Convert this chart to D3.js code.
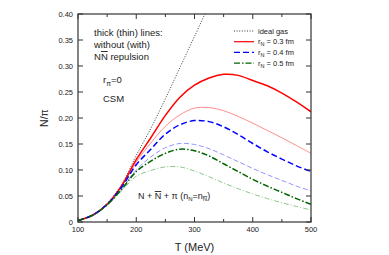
<!DOCTYPE html>
<html>
<head>
<meta charset="utf-8">
<script src="https://cdn.jsdelivr.net/npm/d3@7"></script>
<style>
  body { margin: 0; background: #fff; }
  text { font-family: "Liberation Sans", Arial, sans-serif; fill: #222; }
</style>
</head>
<body>
<svg id="chart" width="389" height="255"></svg>
<script>
// temperature grid (MeV)
var temps = [100, 125, 150, 175, 200, 225, 250, 275, 300, 325, 350, 375, 400, 425, 450, 475, 500];

// N/pi values
var idealT = [100, 125, 150, 175, 200, 225, 250, 275, 300, 325];
var idealGas = [0.003, 0.014, 0.036, 0.072, 0.128, 0.180, 0.237, 0.297, 0.357, 0.417];

var red03 = [0.003, 0.013, 0.034, 0.070, 0.120, 0.162, 0.205, 0.240, 0.263, 0.277, 0.284, 0.282, 0.272, 0.262, 0.248, 0.231, 0.212];
var red03rep = [0.003, 0.013, 0.034, 0.068, 0.115, 0.152, 0.184, 0.206, 0.219, 0.220, 0.214, 0.203, 0.190, 0.176, 0.162, 0.147, 0.132];
var blue04 = [0.003, 0.013, 0.034, 0.067, 0.110, 0.140, 0.169, 0.187, 0.195, 0.193, 0.183, 0.168, 0.151, 0.135, 0.121, 0.108, 0.097];
var blue04rep = [0.003, 0.013, 0.033, 0.064, 0.100, 0.125, 0.143, 0.151, 0.149, 0.141, 0.129, 0.116, 0.103, 0.091, 0.080, 0.069, 0.060];
var green05 = [0.003, 0.013, 0.033, 0.063, 0.097, 0.117, 0.132, 0.140, 0.137, 0.127, 0.112, 0.097, 0.082, 0.069, 0.057, 0.045, 0.034];
var green05rep = [0.003, 0.012, 0.032, 0.060, 0.088, 0.099, 0.106, 0.106, 0.098, 0.087, 0.075, 0.064, 0.054, 0.045, 0.037, 0.030, 0.023];

var xTicks = [100, 150, 200, 250, 300, 350, 400, 450, 500];
var xLabels = [100, 200, 300, 400, 500];
var yTicks = [0, 0.05, 0.10, 0.15, 0.20, 0.25, 0.30, 0.35, 0.40];

var legendNames = ["ideal gas", "0.3 fm", "0.4 fm", "0.5 fm"];

var margin = { left: 78, right: 78, top: 14, bottom: 33 };
var width = 389, height = 255;

var svg = d3.select("#chart");

var x = d3.scaleLinear().domain([100, 500]).range([margin.left, width - margin.right]);
var y = d3.scaleLinear().domain([0, 0.40]).range([height - margin.bottom, margin.top]);

svg.append("clipPath").attr("id", "clip")
  .append("rect")
  .attr("x", x(100)).attr("y", y(0.40))
  .attr("width", x(500) - x(100)).attr("height", y(0) - y(0.40));

var line = d3.line()
  .x(d => x(d[0]))
  .y(d => y(d[1]))
  .curve(d3.curveCatmullRom);

var series = [
  { t: idealT, v: idealGas, color: "#222", w: 0.9, dash: "1,1.6" },
  { t: temps, v: red03rep, color: "#ff8080", w: 0.9, dash: null },
  { t: temps, v: blue04rep, color: "#8888ff", w: 0.9, dash: "5,2.5" },
  { t: temps, v: green05rep, color: "#7fbf7f", w: 0.9, dash: "5,2,1,2" },
  { t: temps, v: red03, color: "#ff0000", w: 1.5, dash: null },
  { t: temps, v: blue04, color: "#0000ff", w: 1.5, dash: "6,3" },
  { t: temps, v: green05, color: "#006400", w: 1.5, dash: "6,2,1.5,2" }
];

var plot = svg.append("g").attr("clip-path", "url(#clip)");

series.forEach(function (s) {
  plot.append("path")
    .datum(s.t.map((t, i) => [t, s.v[i]]))
    .attr("d", line)
    .attr("fill", "none")
    .attr("stroke", s.color)
    .attr("stroke-width", s.w)
    .attr("stroke-dasharray", s.dash);
});

// frame and inward ticks
var axisColor = "#333";
svg.append("rect")
  .attr("x", x(100)).attr("y", y(0.40))
  .attr("width", x(500) - x(100)).attr("height", y(0) - y(0.40))
  .attr("fill", "none").attr("stroke", axisColor).attr("stroke-width", 1.2);

xTicks.forEach(function (t) {
  var len = (t % 100 === 0) ? 5 : 3;
  svg.append("line").attr("x1", x(t)).attr("x2", x(t))
    .attr("y1", y(0)).attr("y2", y(0) - len)
    .attr("stroke", axisColor).attr("stroke-width", 1);
  svg.append("line").attr("x1", x(t)).attr("x2", x(t))
    .attr("y1", y(0.40)).attr("y2", y(0.40) + len)
    .attr("stroke", axisColor).attr("stroke-width", 1);
});

yTicks.forEach(function (v) {
  svg.append("line").attr("x1", x(100)).attr("x2", x(100) + 5)
    .attr("y1", y(v)).attr("y2", y(v))
    .attr("stroke", axisColor).attr("stroke-width", 1);
  svg.append("line").attr("x1", x(500)).attr("x2", x(500) - 5)
    .attr("y1", y(v)).attr("y2", y(v))
    .attr("stroke", axisColor).attr("stroke-width", 1);
});

// tick labels
svg.selectAll(".xl").data(xLabels).enter().append("text")
  .attr("x", d => x(d)).attr("y", y(0) + 10)
  .attr("text-anchor", "middle").attr("font-size", "7.5px")
  .text(d => d);

svg.selectAll(".yl").data(yTicks).enter().append("text")
  .attr("x", x(100) - 5).attr("y", d => y(d) + 2.6)
  .attr("text-anchor", "end").attr("font-size", "7.5px")
  .text(d => d === 0 ? "0" : d3.format(".2f")(d));

// axis titles
svg.append("text")
  .attr("x", (x(100) + x(500)) / 2).attr("y", 251)
  .attr("text-anchor", "middle").attr("font-size", "11px")
  .text("T  (MeV)");

svg.append("text")
  .attr("transform", "translate(48," + ((y(0) + y(0.40)) / 2) + ") rotate(-90)")
  .attr("text-anchor", "middle").attr("font-size", "10.5px")
  .text("N/\u03c0");

// annotations
var note = svg.append("g").attr("font-size", "9.5px");
note.append("text").attr("x", 94).attr("y", 36).text("thick (thin) lines:");
note.append("text").attr("x", 94).attr("y", 48).text("without (with)");
var nn = note.append("text").attr("x", 94).attr("y", 60);
nn.append("tspan").text("N");
nn.append("tspan").style("text-decoration", "overline").text("N");
nn.append("tspan").text(" repulsion");

var rp = note.append("text").attr("x", 103).attr("y", 83);
rp.append("tspan").text("r");
rp.append("tspan").attr("dy", 2.5).attr("font-size", "7px").text("\u03c0");
rp.append("tspan").attr("dy", -2.5).text("=0");

note.append("text").attr("x", 103).attr("y", 102).text("CSM");

var bt = svg.append("text").attr("x", 138).attr("y", 199).attr("font-size", "9px");
bt.append("tspan").text("N + ");
bt.append("tspan").style("text-decoration", "overline").text("N");
bt.append("tspan").text(" + \u03c0 (n");
bt.append("tspan").attr("dy", 2).attr("font-size", "6px").text("N");
bt.append("tspan").attr("dy", -2).text("=n");
bt.append("tspan").attr("dy", 2).attr("font-size", "6px").style("text-decoration", "overline").text("N");
bt.append("tspan").attr("dy", -2).text(")");

// legend
var legendRows = [series[0], series[4], series[5], series[6]];
var lg = svg.append("g").attr("font-size", "7.5px");
legendRows.forEach(function (s, i) {
  var ly = 31 + i * 10.7;
  lg.append("line").attr("x1", 234).attr("x2", 254)
    .attr("y1", ly).attr("y2", ly)
    .attr("stroke", s.color).attr("stroke-width", i === 0 ? 0.9 : 1.2)
    .attr("stroke-dasharray", s.dash);
  var t = lg.append("text").attr("x", 258).attr("y", ly + 2.7);
  if (i === 0) {
    t.text(legendNames[i]);
  } else {
    t.append("tspan").text("r");
    t.append("tspan").attr("dy", 2).attr("font-size", "5.5px").text("N");
    t.append("tspan").attr("dy", -2).text(" = " + legendNames[i]);
  }
});
</script>
</body>
</html>
